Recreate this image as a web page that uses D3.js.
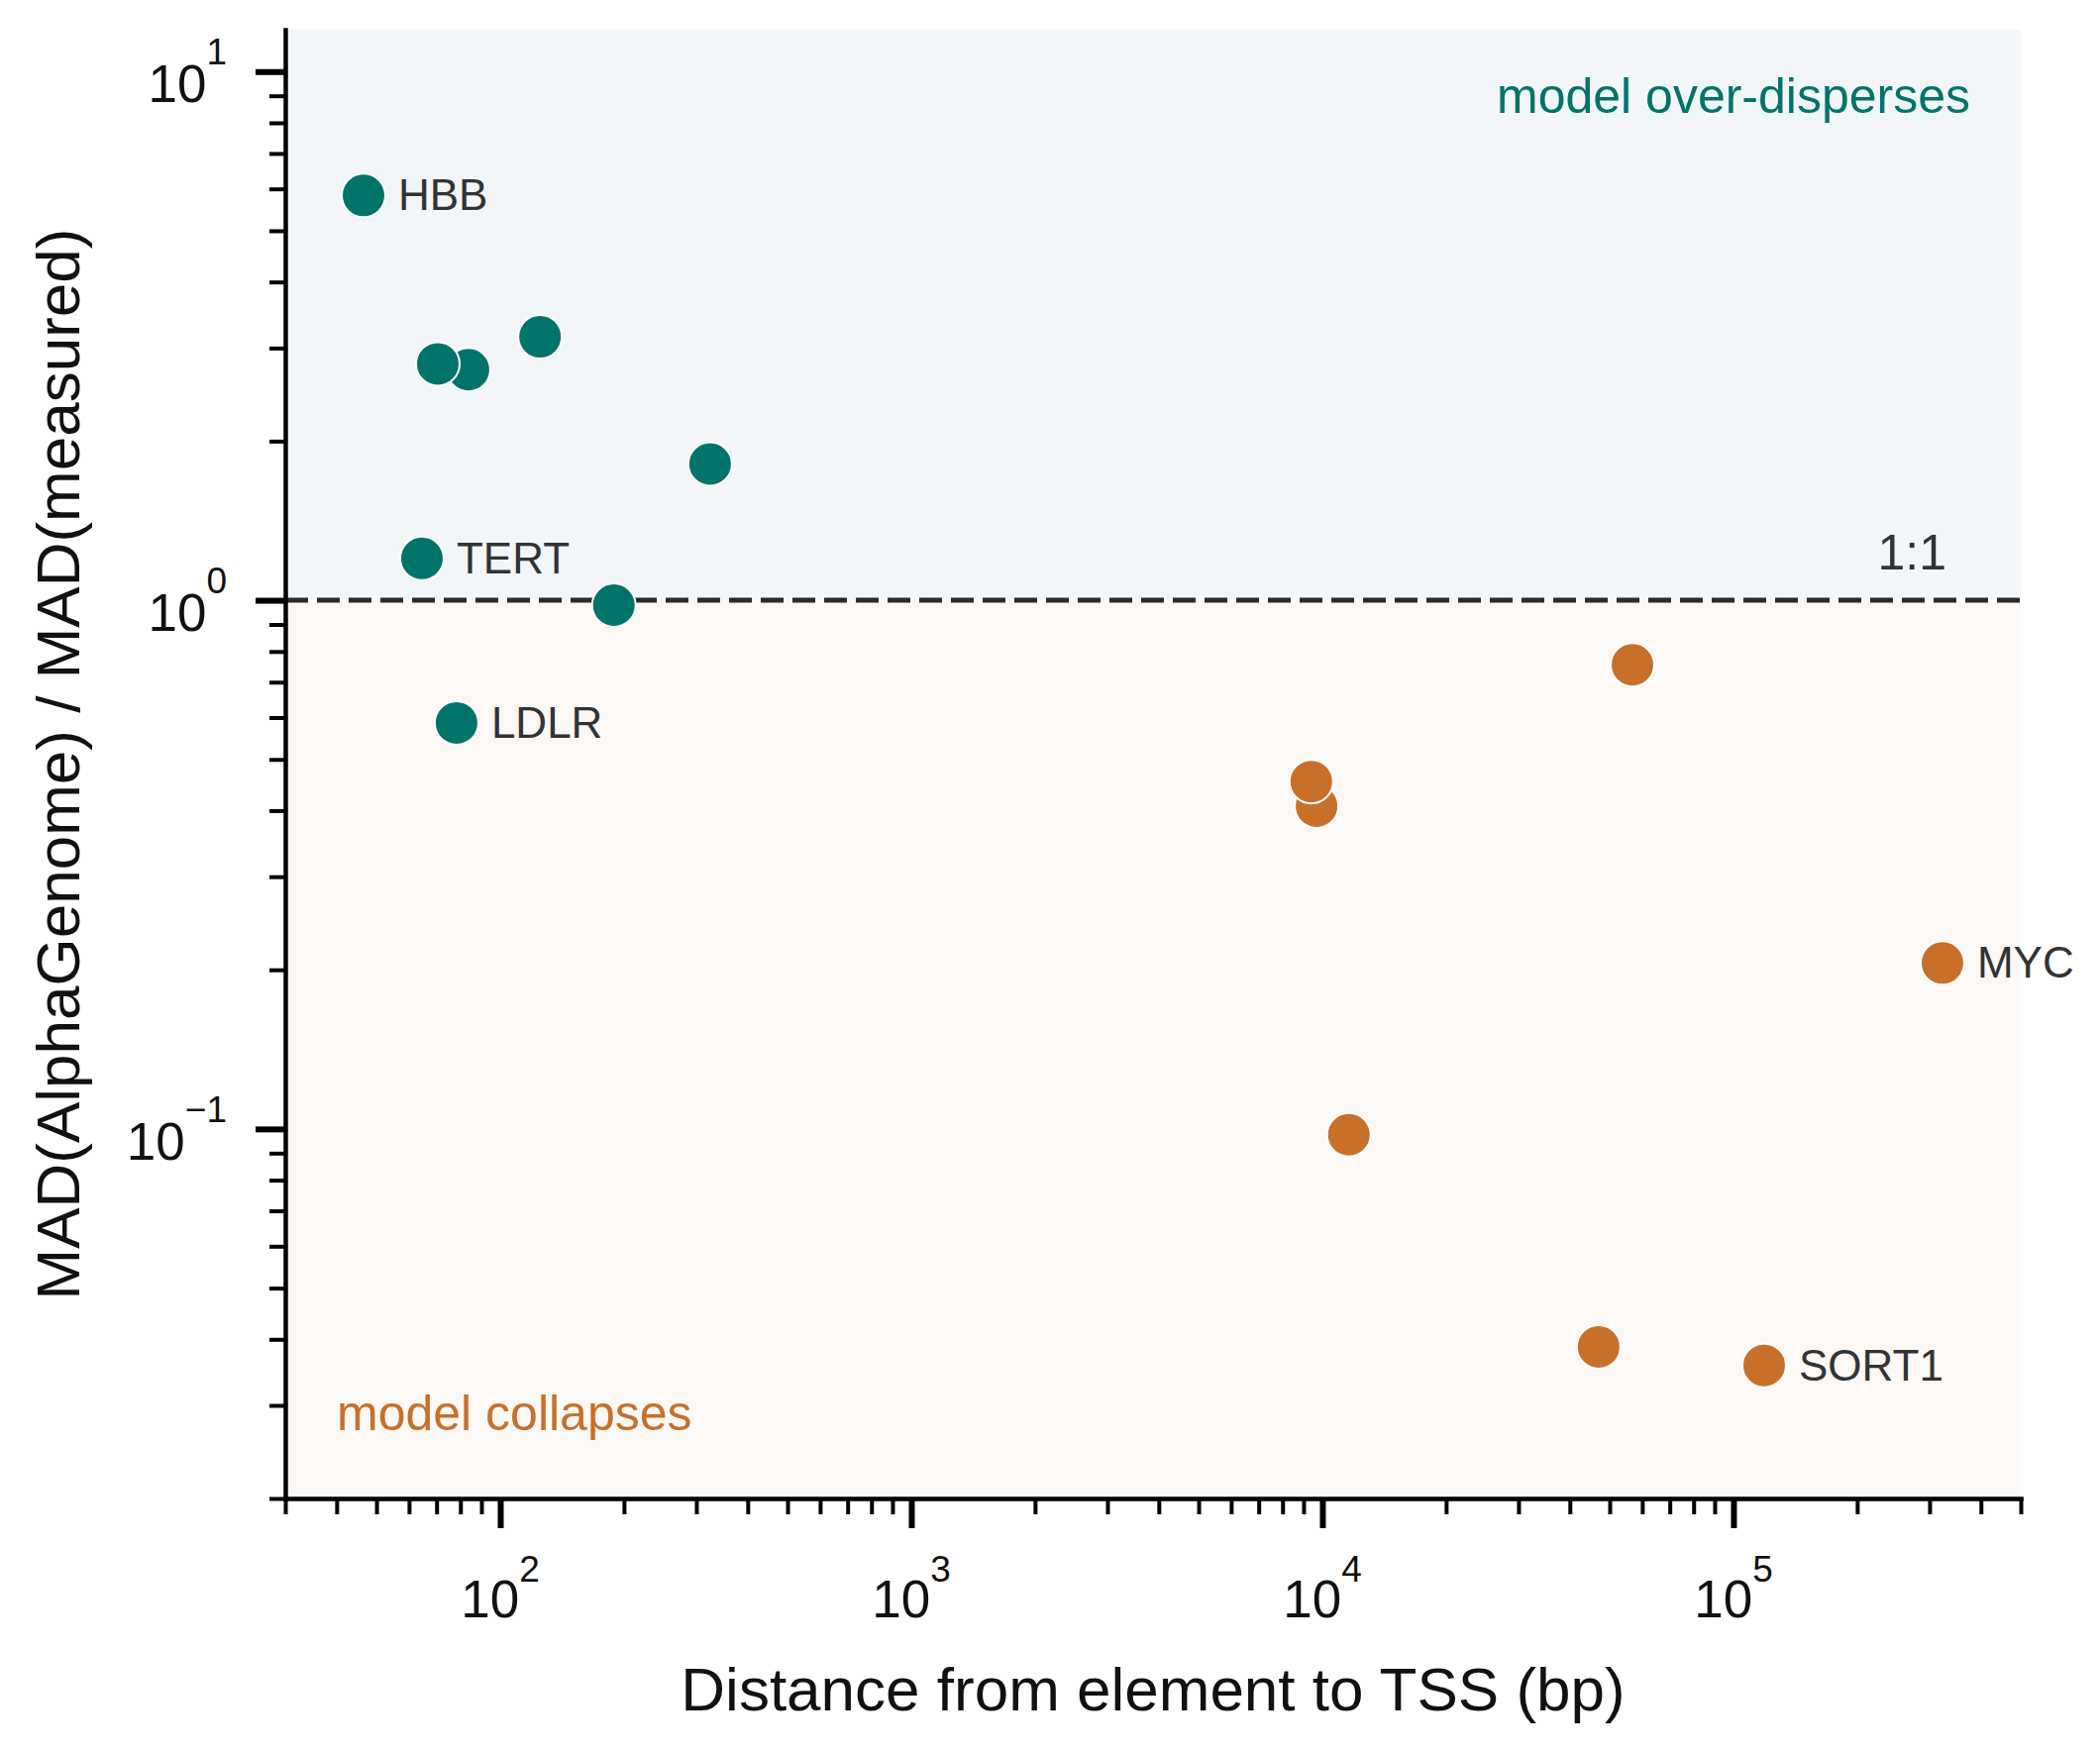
<!DOCTYPE html>
<html>
<head>
<meta charset="utf-8">
<script src="https://cdn.jsdelivr.net/npm/d3@7"></script>
<style>
  body { margin: 0; background: #fff; }
  text { font-family: "Liberation Sans", Arial, Helvetica, sans-serif; }
</style>
</head>
<body>
<svg id="chart" width="2120" height="1770"></svg>
<script>
// elements: distance to TSS (bp) and MAD ratio, group, gene label
const labels    = ['HBB', '', '', '', '', 'TERT', '', 'LDLR', '', '', '', 'MYC', '', '', 'SORT1'];
const distances = [46.5, 83.7, 70.5, 125, 324, 64.5, 189, 78.3, 56800, 9680, 9400, 322500, 11600, 47000, 118800];
const ratios    = [5.83, 2.73, 2.80, 3.15, 1.81, 1.20, 0.979, 0.586, 0.755, 0.408, 0.454, 0.206, 0.0975, 0.0387, 0.0357];
const groups    = ['over', 'over', 'over', 'over', 'over', 'over', 'over', 'over',
                   'collapse', 'collapse', 'collapse', 'collapse', 'collapse', 'collapse', 'collapse'];

const xMajorTicks = [1e2, 1e3, 1e4, 1e5];
const yMajorTicks = [1e-1, 1e0, 1e1];
const xDomain = [30, 5e5];
const yDomain = [0.02, 12];

const colors = { over: '#007468', collapse: '#c86f2a' };

const plotLeft = 288, plotRight = 2040, plotTop = 30, plotBottom = 1513;

let svg = d3.select('#chart');

let x = d3.scaleLog().domain(xDomain).range([plotLeft, plotRight]);
let y = d3.scaleLog().domain(yDomain).range([plotBottom, plotTop]);

let points = labels.map(function(l, i) {
  return { label: l, dist: distances[i], ratio: ratios[i], group: groups[i] };
});

// shaded regions
svg.append('rect')
  .attr('x', plotLeft).attr('y', plotTop)
  .attr('width', plotRight - plotLeft).attr('height', y(1) - plotTop)
  .attr('fill', '#f2f6f8');

svg.append('rect')
  .attr('x', plotLeft).attr('y', y(1))
  .attr('width', plotRight - plotLeft).attr('height', plotBottom - y(1))
  .attr('fill', '#fbf8f5');

// 1:1 reference
svg.append('line')
  .attr('x1', plotLeft).attr('x2', plotRight)
  .attr('y1', y(1)).attr('y2', y(1))
  .attr('stroke', '#2b2b2b')
  .attr('stroke-width', 5)
  .attr('stroke-dasharray', '23,9');

svg.append('text')
  .attr('x', 1965).attr('y', 575)
  .attr('text-anchor', 'end')
  .attr('font-size', 50)
  .attr('fill', '#333')
  .text('1:1');

svg.append('text')
  .attr('x', 1989).attr('y', 114)
  .attr('text-anchor', 'end')
  .attr('font-size', 50)
  .attr('fill', colors.over)
  .text('model over-disperses');

svg.append('text')
  .attr('x', 340).attr('y', 1444)
  .attr('font-size', 50)
  .attr('fill', colors.collapse)
  .text('model collapses');

// axes
let minorX = x.ticks().filter(function(d) { return xMajorTicks.indexOf(d) < 0; });
let minorY = y.ticks().filter(function(d) { return yMajorTicks.indexOf(d) < 0; });

function styleAxis(g, width) {
  g.selectAll('.tick line').attr('stroke', '#000').attr('stroke-width', width);
  g.selectAll('.tick text').remove();
}

svg.append('g')
  .attr('transform', `translate(0,${plotBottom})`)
  .call(d3.axisBottom(x).tickValues(minorX).tickSize(16).tickSizeOuter(0))
  .call(function(g) { g.select('.domain').remove(); styleAxis(g, 4); });

svg.append('g')
  .attr('transform', `translate(${plotLeft},0)`)
  .call(d3.axisLeft(y).tickValues(minorY).tickSize(16).tickSizeOuter(0))
  .call(function(g) { g.select('.domain').remove(); styleAxis(g, 4); });

svg.append('g')
  .attr('transform', `translate(0,${plotBottom})`)
  .call(d3.axisBottom(x).tickValues(xMajorTicks).tickSize(30).tickSizeOuter(0))
  .call(function(g) { styleAxis(g, 6); });

svg.append('g')
  .attr('transform', `translate(${plotLeft},0)`)
  .call(d3.axisLeft(y).tickValues(yMajorTicks).tickSize(30).tickSizeOuter(0))
  .call(function(g) { styleAxis(g, 6); });

svg.selectAll('.domain')
  .attr('stroke', '#000')
  .attr('stroke-width', 4.5)
  .attr('stroke-linecap', 'square');

function exponent(d) {
  let e = Math.round(Math.log10(d));
  return e < 0 ? '\u2212' + (-e) : String(e);
}

function powerLabel(sel, shift) {
  sel.each(function(d) {
    let t = d3.select(this);
    t.append('tspan').attr('font-size', 53).text('10');
    t.append('tspan').attr('font-size', 37).attr('dy', shift).text(exponent(d));
  });
}

svg.append('g').selectAll('text')
  .data(xMajorTicks)
  .join('text')
  .attr('x', function(d) { return x(d); })
  .attr('y', plotBottom + 120)
  .attr('text-anchor', 'middle')
  .attr('fill', '#111')
  .call(powerLabel, -36);

svg.append('g').selectAll('text')
  .data(yMajorTicks)
  .join('text')
  .attr('x', 229)
  .attr('y', function(d) { return y(d) + 31; })
  .attr('text-anchor', 'end')
  .attr('fill', '#111')
  .call(powerLabel, -38);

// axis titles
svg.append('text')
  .attr('x', (plotLeft + plotRight) / 2).attr('y', 1727)
  .attr('text-anchor', 'middle')
  .attr('font-size', 62)
  .attr('fill', '#111')
  .text('Distance from element to TSS (bp)');

svg.append('text')
  .attr('transform', `translate(80,${(plotTop + plotBottom) / 2}) rotate(-90)`)
  .attr('text-anchor', 'middle')
  .attr('font-size', 62)
  .attr('fill', '#111')
  .text('MAD(AlphaGenome) / MAD(measured)');

// points
svg.append('g').selectAll('circle')
  .data(points)
  .join('circle')
  .attr('cx', function(d) { return x(d.dist); })
  .attr('cy', function(d) { return y(d.ratio); })
  .attr('r', 22)
  .attr('fill', function(d) { return colors[d.group]; })
  .attr('stroke', '#fff')
  .attr('stroke-width', 2);

svg.append('g').selectAll('text')
  .data(points.filter(function(d) { return d.label; }))
  .join('text')
  .attr('x', function(d) { return x(d.dist) + 35; })
  .attr('y', function(d) { return y(d.ratio) + 15; })
  .attr('font-size', 44)
  .attr('fill', '#333')
  .text(function(d) { return d.label; });
</script>
</body>
</html>
